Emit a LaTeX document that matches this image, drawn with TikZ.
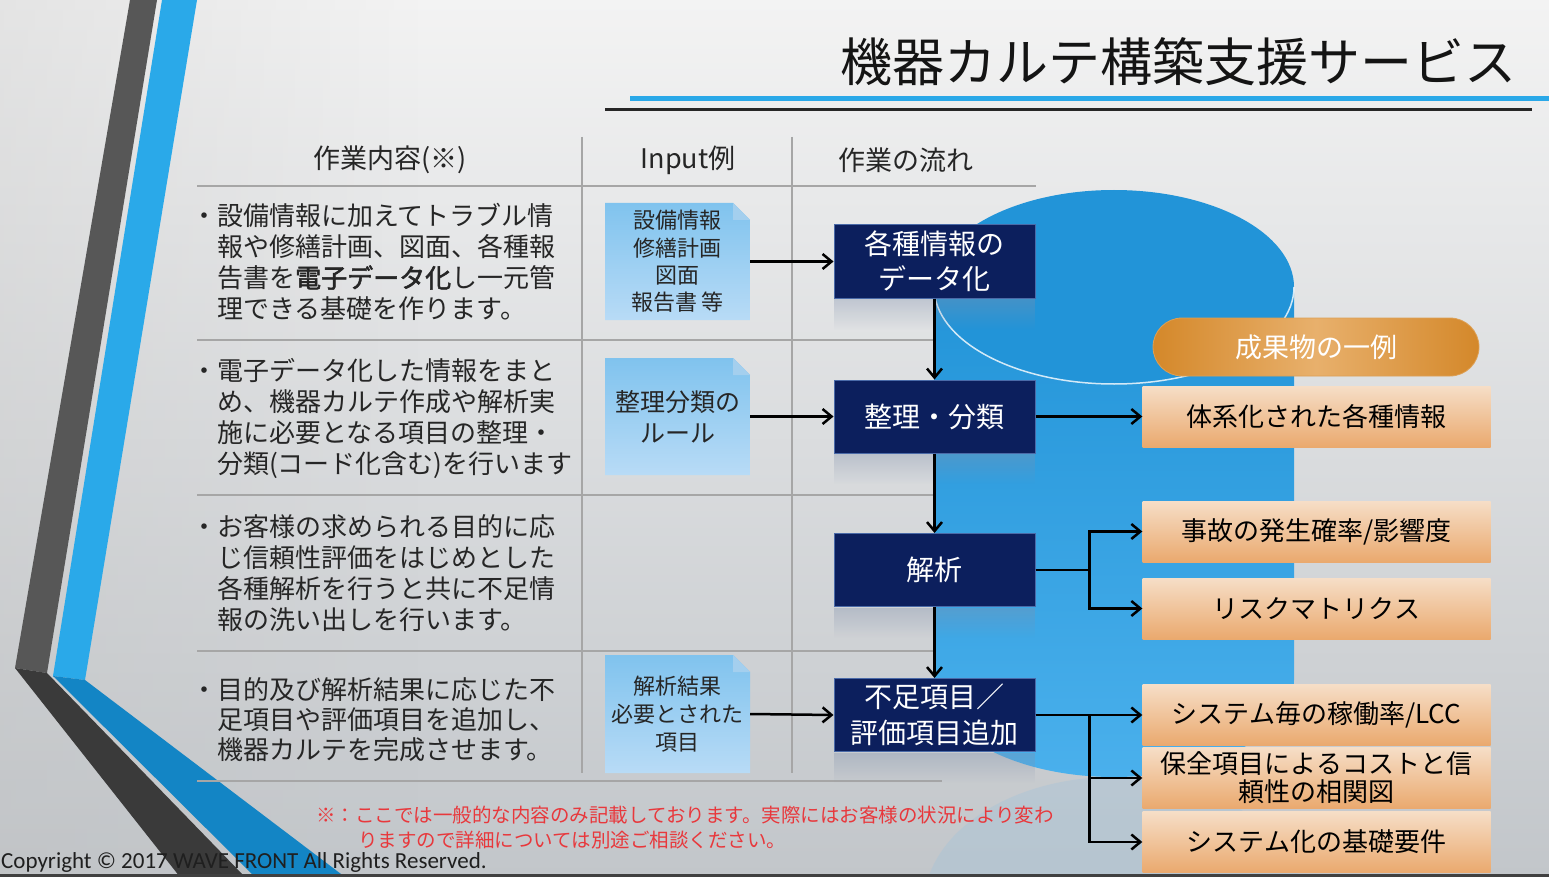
\documentclass[tikz,border=0pt]{standalone}
\usepackage{fontspec}
\setmainfont{Noto Sans CJK JP}[AutoFakeBold=2]
\newfontfamily\cpfont{Carlito}
\usetikzlibrary{arrows.meta,fadings}
\definecolor{navy}{HTML}{0C1F5D}
\definecolor{navyedge}{HTML}{4A6AA8}
\definecolor{reflcol}{HTML}{8090AC}
\definecolor{bgbottom}{HTML}{C2C6CA}
\definecolor{bgtop}{HTML}{F3F3F3}
\definecolor{palecyl}{HTML}{A8C4D8}
\definecolor{tline}{HTML}{A6A6A6}
\definecolor{txt}{HTML}{262626}
\definecolor{docT}{HTML}{80C3EE}
\definecolor{docB}{HTML}{B8DBF6}
\definecolor{docF}{HTML}{A4CFEE}
\definecolor{resT}{HTML}{F6DEC7}
\definecolor{resB}{HTML}{EAA96E}
\definecolor{pillE}{HTML}{D4882A}
\definecolor{pillM}{HTML}{E8B06C}
\definecolor{cylT}{HTML}{2294D8}
\definecolor{cylB}{HTML}{4AB0EC}
\definecolor{bandD}{HTML}{575757}
\definecolor{bandD2}{HTML}{3A3A3A}
\definecolor{bandB}{HTML}{2AA9E9}
\definecolor{bandB2}{HTML}{1385C5}
\definecolor{notered}{HTML}{E8383C}
\definecolor{titleblue}{HTML}{2AA8E8}
\tikzfading[name=fadedown, top color=transparent!65, bottom color=transparent!100]
\tikzfading[name=fadeleft, left color=transparent!30, right color=transparent!100]
\newcommand\mydocshape[4]{%
  \shade[top color=docT, bottom color=docB] (#1,#2) -- ({#3-17},#2) -- (#3,{#2+17}) -- (#3,#4) -- (#1,#4) -- cycle;
  \fill[docF] ({#3-17},#2) -- ({#3-17},{#2+17}) -- (#3,{#2+17}) -- cycle;
}
\begin{document}
\begin{tikzpicture}[x=1pt,y=-1pt,
  tl/.style={draw=tline, line width=2pt},
  hdr/.style={inner sep=0, text=txt, font=\fontsize{27}{30}\selectfont},
  lefttext/.style={anchor=west, align=left, inner sep=0, text=txt, font=\fontsize{26}{31}\selectfont},
  flow/.style={fill=navy, draw=navyedge, line width=1pt, text=white, align=center, minimum width=201, minimum height=73, inner sep=0, font=\fontsize{28}{35}\selectfont},
  doctext/.style={align=center, inner sep=0, minimum width=145, text=txt},
  res/.style={top color=resT, bottom color=resB, minimum width=348, minimum height=61, inner sep=0, align=center, text=black, font=\fontsize{26}{28}\selectfont},
  arr/.style={line width=2.5pt, -{Straight Barb[length=9pt,width=15pt]}},
  refl/.style={fill=reflcol, path fading=fadedown},
]
\useasboundingbox (0,0) rectangle (1549,877);
% background
\shade[top color=bgtop, bottom color=bgbottom] (0,0) rectangle (1549,877);
\fill[black!25, opacity=0.4, path fading=fadeleft] (0,0) rectangle (420,877);
% left chevron bands
\fill[bandD] (130,0) -- (157,0) -- (47,673) -- (15,668) -- cycle;
\fill[bandD2] (15,668) -- (47,673) -- (245,877) -- (180,877) -- cycle;
\fill[bandB] (162,0) -- (197,0) -- (85,680) -- (53,676) -- cycle;
\fill[bandB2] (53,676) -- (85,680) -- (345,877) -- (255,877) -- cycle;
% title
\node[inner sep=0, text=black!92, font=\fontsize{52}{56}\selectfont] (ttl) at (1178,62) {機器カルテ構築支援サービス};
\draw[titleblue, line width=5pt] (630,99) -- (1549,99);
\draw[black!85, line width=3pt] (605,110) -- (1532,110);
% table lines
\draw[tl] (197,186) -- (1036,186);
\draw[tl] (582,137) -- (582,773);
\draw[tl] (792,137) -- (792,773);
\draw[tl] (197,340) -- (942,340);
\draw[tl] (197,495) -- (942,495);
\draw[tl] (197,651) -- (942,651);
\draw[tl] (197,781) -- (942,781);
% headers
\node[hdr] (h1) at (390,160) {作業内容(※)};
\node[hdr] (h2) at (688,160) {Input例};
\node[hdr] (h3) at (906,160) {作業の流れ};
% left texts
\node[lefttext] (t1) at (217,262) {\llap{・}設備情報に加えてトラブル情\\報や修繕計画、図面、各種報\\告書を{\bfseries 電子データ化}し一元管\\理できる基礎を作ります。};
\node[lefttext] (t2) at (217,418) {\llap{・}電子データ化した情報をまと\\め、機器カルテ作成や解析実\\施に必要となる項目の整理・\\分類(コード化含む)を行います};
\node[lefttext] (t3) at (217,573.5) {\llap{・}お客様の求められる目的に応\\じ信頼性評価をはじめとした\\各種解析を行うと共に不足情\\報の洗い出しを行います。};
\node[lefttext, font=\fontsize{26}{30}\selectfont] (t4) at (217,720) {\llap{・}目的及び解析結果に応じた不\\足項目や評価項目を追加し、\\機器カルテを完成させます。};
% cylinder reflection and cylinder
\fill[palecyl, opacity=0.45] (1114,905) ellipse[x radius=190, y radius=128];
\shade[top color=cylT, bottom color=cylB] (934,287) -- (934,680) arc[start angle=180, end angle=0, x radius=180, y radius=97] -- (1294,287) -- cycle;
\fill[cylT] (1114,287) ellipse[x radius=180, y radius=97];
\draw[white, opacity=0.8, line width=1.5pt] (934,287) arc[start angle=180, end angle=0, x radius=180, y radius=97];
% input docs
\mydocshape{605}{203}{750}{320}
\mydocshape{605}{358}{750}{475}
\mydocshape{605}{655}{750}{773}
\node[doctext, minimum height=117, font=\fontsize{22}{27.3}\selectfont] (d1) at (677.5,261.5) {設備情報\\修繕計画\\図面\\報告書 等};
\node[doctext, minimum height=117, font=\fontsize{25}{31}\selectfont] (d2) at (677.5,416.5) {整理分類の\\ルール};
\node[doctext, minimum height=118, font=\fontsize{22}{28}\selectfont] (d3) at (677.5,714) {解析結果\\必要とされた\\項目};
% flow box reflections
\fill[refl] (834,299) rectangle (1035,330);
\fill[refl] (834,454) rectangle (1035,484);
\fill[refl] (834,608) rectangle (1035,638);
\fill[refl] (834,753) rectangle (1035,783);
% flow boxes
\node[flow] (b1) at (934.5,261.5) {各種情報の\\データ化};
\node[flow] (b2) at (934.5,416.5) {整理・分類};
\node[flow] (b3) at (934.5,570) {解析};
\node[flow, font=\fontsize{28}{36}\selectfont] (b4) at (934.5,715) {不足項目／\\評価項目追加};
% result pill and boxes
\node[minimum width=326, minimum height=58, rounded corners=29, left color=pillE, right color=pillE, middle color=pillM, draw=pillE!80!white, line width=0.8pt, text=white, inner sep=0, font=\fontsize{27}{30}\selectfont] (pill) at (1316,347) {成果物の一例};
\node[res] (r1) at (1316.5,416.5) {体系化された各種情報};
\node[res] (r2) at (1316.5,531.5) {事故の発生確率/影響度};
\node[res] (r3) at (1316.5,608.5) {リスクマトリクス};
\node[res] (r4) at (1316.5,715) {システム毎の稼働率/LCC};
\node[res] (r5) at (1316.5,778) {保全項目によるコストと信\\頼性の相関図};
\node[res] (r6) at (1316.5,842) {システム化の基礎要件};
% connectors
\draw[arr] (d1.east) -- (b1.west);
\draw[arr] (d2.east) -- (b2.west);
\draw[arr] (d3.east) -- (b4.west);
\draw[arr] (b1.south) -- (b2.north);
\draw[arr] (b2.south) -- (b3.north);
\draw[arr] (b3.south) -- (b4.north);
\draw[arr] (b2.east) -- (r1.west);
\draw[arr] (b3.east) -- ++(54,0) |- (r2.west);
\draw[arr] (b3.east) -- ++(54,0) |- (r3.west);
\draw[arr] (b4.east) -- (r4.west);
\draw[arr] (b4.east) -- ++(54,0) |- (r5.west);
\draw[arr] (b4.east) -- ++(54,0) |- (r6.west);
% note and copyright
\node[anchor=west, align=left, inner sep=0, text=notered, font=\fontsize{19.5}{25}\selectfont] (note) at (316,827.5) {※：ここでは一般的な内容のみ記載しております。実際にはお客様の状況により変わ\\\hspace*{42pt}りますので詳細については別途ご相談ください。};
\node[anchor=west, inner sep=0, text=black!88, font=\cpfont\fontsize{23}{23}\selectfont] (cp) at (1,862) {Copyright © 2017 WAVE FRONT All Rights Reserved.};
\fill[black!75] (0,874) rectangle (1549,877);
\end{tikzpicture}
\end{document}
